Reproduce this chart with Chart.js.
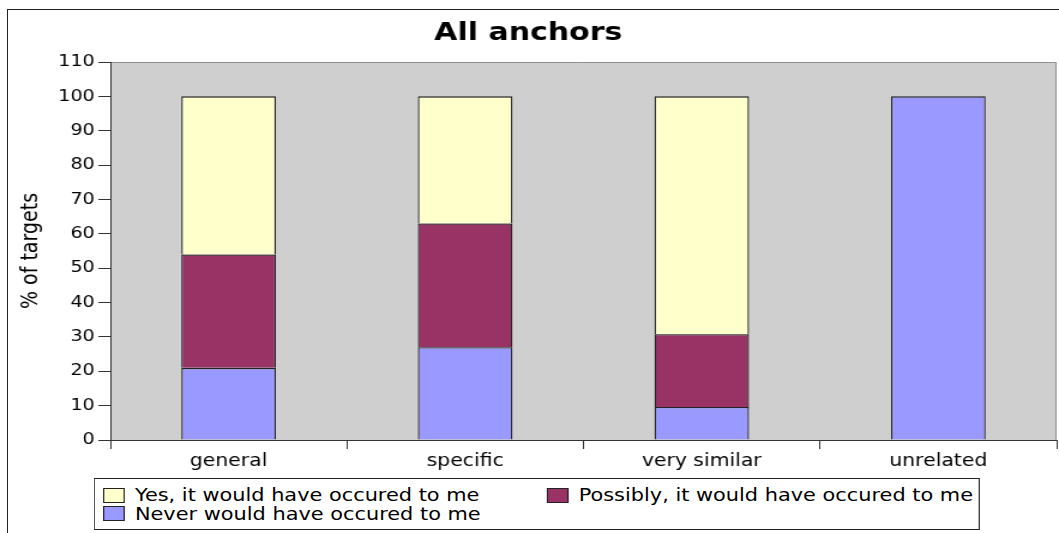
<!DOCTYPE html>
<html>
<head>
<meta charset="utf-8">
<title>All anchors</title>
<script src="https://cdn.jsdelivr.net/npm/chart.js@4"></script>
<style>
  html, body { margin: 0; padding: 0; background: #fff; overflow: hidden; }
  #frame { position: absolute; left: 7px; top: 9px; width: 1100px; height: 600px; border: 1px solid #222; }
  /* the original picture is stretched sideways, so the whole chart is drawn narrower and scaled */
  #wrap { position: absolute; left: 0; top: 0; width: 883px; height: 533px; transform: scaleX(1.1993); transform-origin: 0 0; }
  #myChart { position: absolute; left: 0; top: 0; }
  #legend {
    position: absolute; left: 78px; top: 478px; width: 739px; height: 52px;
    box-sizing: border-box; border: 1px solid #222; background: #fff;
    padding: 7px 0 0 7px;
    display: grid; grid-template-columns: 370px auto; grid-auto-rows: 18.5px;
    font: 17.4px "DejaVu Sans"; color: #000;
  }
  .item { display: flex; align-items: center; white-space: nowrap; }
  .swatch { width: 17.5px; height: 15px; box-sizing: border-box; border: 1px solid #222; margin-right: 9px; }
</style>
</head>
<body>
<div id="frame"></div>
<div id="wrap">
  <canvas id="myChart" width="883" height="533"></canvas>
  <div id="legend"></div>
</div>
<script>
const categories = ['general', 'specific', 'very similar', 'unrelated'];
const neverValues = [21, 27, 9.6, 100];
const possiblyValues = [33, 36, 21.2, 0];
const yesValues = [46, 37, 69.2, 0];
const yTicks = [0, 10, 20, 30, 40, 50, 60, 70, 80, 90, 100, 110];

Chart.defaults.font.family = '"DejaVu Sans"';
Chart.defaults.color = '#000';

const plotBackground = {
    id: 'plotBackground',
    beforeDraw(chart) {
        const ctx = chart.ctx;
        const a = chart.chartArea;
        ctx.save();
        ctx.fillStyle = '#cfcfcf';
        ctx.fillRect(a.left, a.top, a.right - a.left, a.bottom - a.top);
        ctx.strokeStyle = '#8f8f8f';
        ctx.lineWidth = 1;
        ctx.beginPath();
        ctx.moveTo(a.left, a.top + 0.5);
        ctx.lineTo(a.right - 0.5, a.top + 0.5);
        ctx.lineTo(a.right - 0.5, a.bottom);
        ctx.stroke();
        ctx.restore();
    }
};

const ctx = document.getElementById('myChart').getContext('2d');
const chart = new Chart(ctx, {
    type: 'bar',
    data: {
        labels: categories,
        datasets: [{
            label: 'Never would have occured to me',
            data: neverValues,
            backgroundColor: '#9999ff'
        }, {
            label: 'Possibly, it would have occured to me',
            data: possiblyValues,
            backgroundColor: '#993366'
        }, {
            label: 'Yes, it would have occured to me',
            data: yesValues,
            backgroundColor: '#ffffcc'
        }]
    },
    options: {
        responsive: false,
        animation: false,
        layout: { padding: { left: 0, right: 2, top: 0, bottom: 0 } },
        datasets: {
            bar: {
                borderColor: '#222',
                borderWidth: 1.3,
                categoryPercentage: 1,
                barPercentage: 0.4
            }
        },
        plugins: {
            legend: { display: false },
            tooltip: { enabled: false },
            title: {
                display: true,
                text: 'All anchors',
                color: '#000',
                font: { size: 25, weight: 'bold' },
                padding: { top: 18, bottom: 14 }
            }
        },
        scales: {
            x: {
                stacked: true,
                offset: true,
                afterFit: (scale) => { scale.height = 93; },
                grid: { offset: true, drawOnChartArea: false, tickLength: 9, color: '#333' },
                border: { color: '#333', width: 1 },
                ticks: { font: { size: 17 }, padding: 2, color: '#000' }
            },
            y: {
                stacked: true,
                min: 0,
                max: 110,
                afterFit: (scale) => { scale.width = 92; },
                afterBuildTicks: (scale) => { scale.ticks = yTicks.map(v => ({ value: v })); },
                grid: { drawOnChartArea: false, tickLength: 10, color: '#333' },
                border: { color: '#333', width: 1 },
                ticks: { font: { size: 16 }, padding: 3, color: '#000' },
                title: {
                    display: true,
                    text: '% of targets',
                    color: '#000',
                    font: { size: 19 },
                    padding: { top: 15, bottom: 0 }
                }
            }
        }
    },
    plugins: [plotBackground]
});

// legend in the same order as the picture: Yes, Possibly / Never
const legend = document.getElementById('legend');
chart.data.datasets.slice().reverse().forEach(ds => {
    const item = document.createElement('div');
    item.className = 'item';
    const box = document.createElement('span');
    box.className = 'swatch';
    box.style.background = ds.backgroundColor;
    item.appendChild(box);
    item.appendChild(document.createTextNode(ds.label));
    legend.appendChild(item);
});
</script>
</body>
</html>
